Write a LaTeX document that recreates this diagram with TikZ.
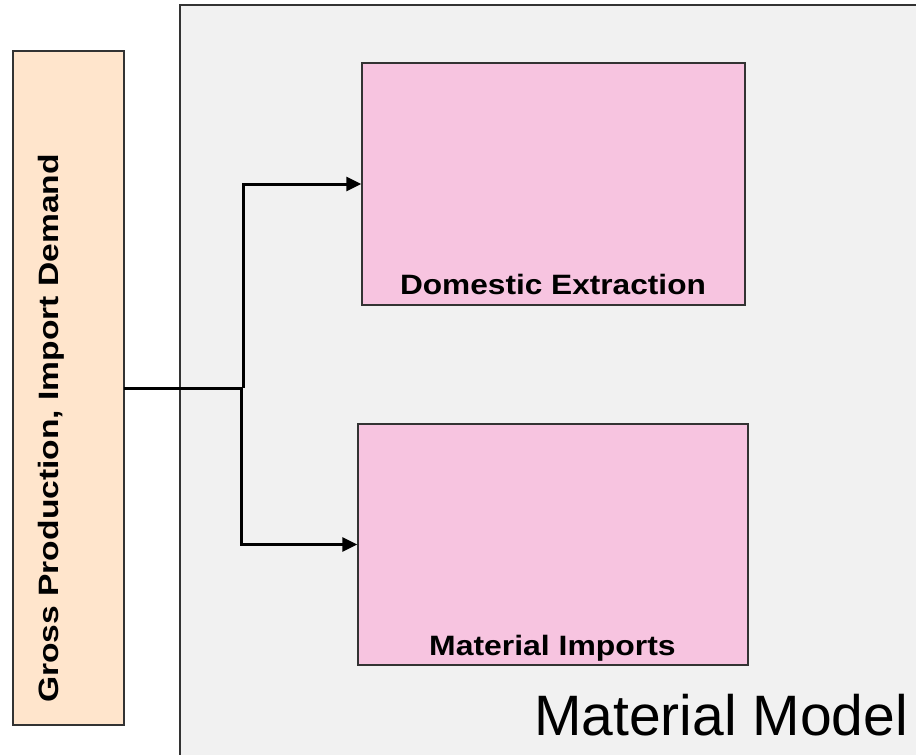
\documentclass[tikz,border=0pt]{standalone}
\usepackage{fontspec}
\setmainfont{Liberation Sans}
\usetikzlibrary{arrows.meta}
\definecolor{peach}{HTML}{FFE5CC}
\definecolor{pinkbox}{HTML}{F7C4E0}
\definecolor{graybg}{HTML}{F1F1F1}
\definecolor{edge}{HTML}{333333}
\tikzset{
  boxstyle/.style={draw=edge, line width=1.4pt},
  conn/.style={line width=3pt, draw=black},
  arr/.style={conn, -{Triangle[length=15pt,width=14pt]}},
  lbl/.style={font=\bfseries\fontsize{28}{30}\selectfont, anchor=base},
}
\begin{document}
\begin{tikzpicture}[x=1pt,y=-1pt]
\useasboundingbox (0,0) rectangle (916,755);
\fill[white] (0,0) rectangle (916,755);
% container
\draw[boxstyle, fill=graybg] (180,5) rectangle (930,770);
\node[font=\fontsize{57}{60}\selectfont, anchor=base west, inner sep=0] (title) at (534,735) {Material Model};
% left box
\draw[boxstyle, fill=peach] (13,51) rectangle (124,725);
\node[draw=none, minimum width=111pt, minimum height=674pt, inner sep=0] (src) at (68.5,388) {};
\node[font=\bfseries\fontsize{28}{30}\selectfont, rotate=90, anchor=base, inner sep=0] (srclbl) at (58,428.5) {\scalebox{1.2}[1]{Gross Production, Import Demand}};
% target boxes
\node[boxstyle, fill=pinkbox, minimum width=383pt, minimum height=242pt, inner sep=0] (dom) at (553.5,184) {};
\node[lbl, inner sep=0] (domlbl) at (553,294) {\scalebox{1.13}[1]{Domestic Extraction}};
\node[boxstyle, fill=pinkbox, minimum width=390pt, minimum height=241pt, inner sep=0] (imp) at (553,544.5) {};
\node[lbl, inner sep=0] (implbl) at (552.5,655) {\scalebox{1.14}[1]{Material Imports}};
% connectors
\coordinate (j) at (243,388);
\draw[conn] (src.east |- j) -- (j);
\draw[arr] (j) |- (dom.west);
\draw[arr] (j) -- (241,388) |- (imp.west);
\end{tikzpicture}
\end{document}
